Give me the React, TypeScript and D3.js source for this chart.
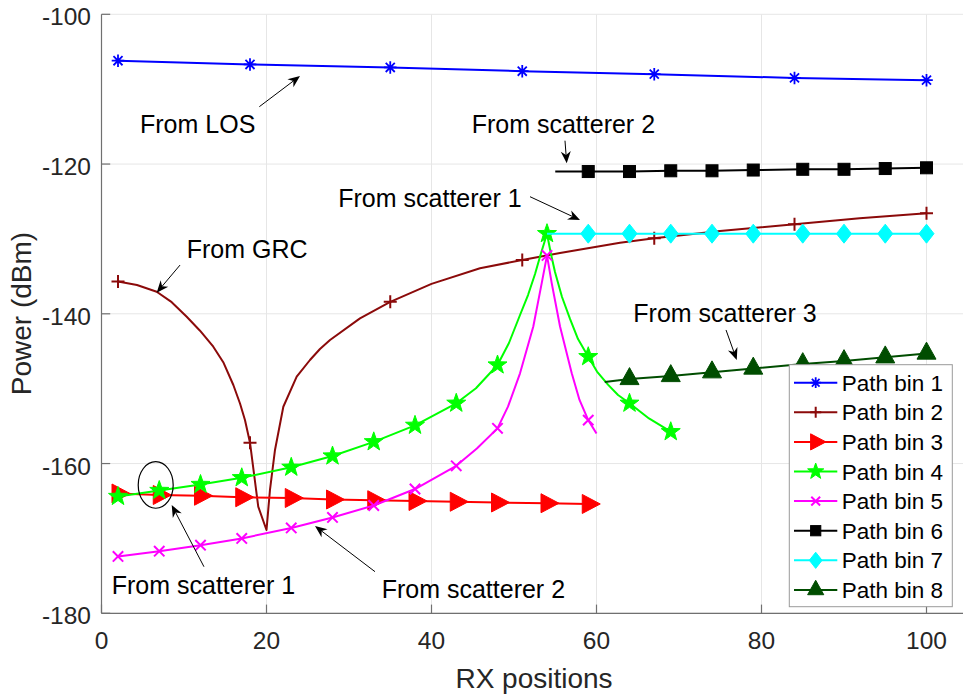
import React from "react";
import * as d3 from "d3";

const W = 963;
const H = 696;
const FONT = "'Liberation Sans', Arial, Helvetica, sans-serif";

// ---------- data ----------
const xTicks = [0, 20, 40, 60, 80, 100];
const yTicks = [-180, -160, -140, -120, -100];
const seriesNames = ["Path bin 1", "Path bin 2", "Path bin 3", "Path bin 4", "Path bin 5", "Path bin 6", "Path bin 7", "Path bin 8"];

const bin1X = [2, 18, 35, 51, 67, 84, 100];
const bin1Y = [-106.2, -106.7, -107.1, -107.6, -108.0, -108.5, -108.8];
const bin1Markers = [0, 1, 2, 3, 4, 5, 6];

const bin2X = [2, 4.3, 6.69, 8.51, 10.33, 11.94, 13.55, 14.76, 15.98, 16.79, 17.39, 18, 18.48, 19, 20, 20.42, 21.03, 22.04, 23.66, 25.27, 26.48, 27.7, 31.33, 35, 40, 45.88, 51, 55.58, 62.85, 67, 74.97, 84, 91.9, 100];
const bin2Y = [-135.7, -136.15, -137.05, -138.45, -140.39, -142.26, -144.39, -146.46, -149.51, -151.98, -154.18, -157.22, -161.3, -165.76, -168.87, -163.53, -158.19, -152.41, -148.4, -146.17, -144.7, -143.5, -140.61, -138.4, -136.0, -133.92, -132.81, -131.88, -130.5, -129.92, -128.94, -128.05, -127.25, -126.58];
const bin2Markers = [0, 11, 23, 26, 29, 31, 33];

const bin3X = [2, 7, 12, 17, 23, 28, 33, 38, 43, 48, 54, 59];
const bin3Y = [-164.0, -164.2, -164.3, -164.5, -164.6, -164.8, -164.9, -165.0, -165.1, -165.2, -165.3, -165.4];
const bin3Markers = [0, 1, 2, 3, 4, 5, 6, 7, 8, 9, 10, 11];

const bin4X = [2, 7, 12, 17, 23, 28, 33, 38, 43, 45.39, 48, 49.39, 50.73, 51.7, 52.55, 53.21, 54, 54.48, 54.97, 55.82, 56.79, 57.76, 59, 60.06, 61.39, 62.61, 64, 66.36, 69];
const bin4Y = [-164.4, -163.6, -162.8, -161.9, -160.5, -159.0, -157.1, -154.9, -151.95, -149.95, -146.84, -143.9, -140.16, -137.49, -134.68, -132.15, -129.3, -132.01, -134.42, -137.76, -140.69, -143.37, -145.73, -147.71, -149.46, -150.85, -151.95, -153.98, -155.75];
const bin4Markers = [0, 1, 2, 3, 4, 5, 6, 7, 8, 10, 16, 22, 26, 28];

const bin5X = [2, 7, 12, 17, 23, 28, 33, 38, 43, 45.5, 48, 49.27, 50.73, 52.34, 53.36, 54, 54.57, 55.58, 57.0, 57.94, 59, 60];
const bin5Y = [-172.4, -171.7, -170.9, -170.0, -168.6, -167.2, -165.6, -163.4, -160.3, -158.0, -155.3, -152.4, -147.95, -141.7, -135.9, -132.2, -135.9, -141.7, -147.95, -151.5, -154.2, -156.0];
const bin5Markers = [0, 1, 2, 3, 4, 5, 6, 7, 8, 10, 15, 20];

const bin6X = [55, 59, 64, 69, 74, 79, 85, 90, 95, 100];
const bin6Y = [-121.0, -121.0, -121.0, -120.9, -120.9, -120.8, -120.7, -120.7, -120.6, -120.5];
const bin6Markers = [1, 2, 3, 4, 5, 6, 7, 8, 9];

const bin7X = [54, 59, 64, 69, 74, 79, 85, 90, 95, 100];
const bin7Y = [-129.3, -129.3, -129.3, -129.3, -129.3, -129.3, -129.3, -129.3, -129.3, -129.3];
const bin7Markers = [1, 2, 3, 4, 5, 6, 7, 8, 9];

const bin8X = [61, 64, 69, 74, 79, 85, 90, 95, 100];
const bin8Y = [-149.1, -148.7, -148.3, -147.8, -147.3, -146.7, -146.3, -145.8, -145.3];
const bin8Markers = [1, 2, 3, 4, 5, 6, 7, 8];

// annotations (data coordinates)
const annTexts = ["From LOS", "From GRC", "From scatterer 2", "From scatterer 1", "From scatterer 3", "From scatterer 1", "From scatterer 2"];
const annTextX = [4.67, 10.33, 44.87, 28.7, 64.46, 1.24, 33.96];
const annTextY = [-115.85, -132.55, -115.89, -125.7, -141.05, -177.42, -178.0];
const annTailX = [19.13, 9.52, 56.18, 51.94, 75.7, 12.42, 33.15];
const annTailY = [-112.34, -133.49, -116.88, -124.36, -142.16, -173.78, -174.44];
const annHeadX = [24.06, 6.69, 56.39, 58.0, 77.0, 8.51, 25.88];
const annHeadY = [-108.24, -137.18, -119.9, -127.47, -146.17, -165.54, -168.34];
const ellipseCenter = [6.57, -162.86];
const ellipseRadius = [2.12, 3.11];

// ---------- styles ----------
type Shape = "asterisk" | "plus" | "triRight" | "star" | "x" | "square" | "diamond" | "triUp";
const seriesStyle: { color: string; shape: Shape }[] = [
  { color: "#0000ff", shape: "asterisk" },
  { color: "#8b0a0a", shape: "plus" },
  { color: "#ff0000", shape: "triRight" },
  { color: "#00ff00", shape: "star" },
  { color: "#ff00ff", shape: "x" },
  { color: "#000000", shape: "square" },
  { color: "#00ffff", shape: "diamond" },
  { color: "#004d00", shape: "triUp" },
];

const seriesData = [
  { xs: bin1X, ys: bin1Y, m: bin1Markers },
  { xs: bin2X, ys: bin2Y, m: bin2Markers },
  { xs: bin3X, ys: bin3Y, m: bin3Markers },
  { xs: bin4X, ys: bin4Y, m: bin4Markers },
  { xs: bin5X, ys: bin5Y, m: bin5Markers },
  { xs: bin6X, ys: bin6Y, m: bin6Markers },
  { xs: bin7X, ys: bin7Y, m: bin7Markers },
  { xs: bin8X, ys: bin8Y, m: bin8Markers },
];

const xScale = d3.scaleLinear().domain([0, 105]).range([101.5, 967.75]);
const yScale = d3.scaleLinear().domain([-180, -100]).range([613.3, 14.3]);

function Marker({ shape, cx, cy, color, s = 1 }: { shape: Shape; cx: number; cy: number; color: string; s?: number }) {
  switch (shape) {
    case "asterisk": {
      const r = 6.3 * s;
      const d = r * 0.72;
      return (
        <path
          d={`M${cx - r},${cy}H${cx + r}M${cx},${cy - r}V${cy + r}M${cx - d},${cy - d}L${cx + d},${cy + d}M${cx - d},${cy + d}L${cx + d},${cy - d}`}
          stroke={color}
          strokeWidth={1.8}
          fill="none"
        />
      );
    }
    case "plus": {
      const r = 6.5 * s;
      return <path d={`M${cx - r},${cy}H${cx + r}M${cx},${cy - r}V${cy + r}`} stroke={color} strokeWidth={2} fill="none" />;
    }
    case "x": {
      const r = 5.2 * s;
      return <path d={`M${cx - r},${cy - r}L${cx + r},${cy + r}M${cx - r},${cy + r}L${cx + r},${cy - r}`} stroke={color} strokeWidth={2} fill="none" />;
    }
    case "triRight": {
      const w = 18 * s;
      const h = 19 * s;
      return <path d={`M${cx - w / 3},${cy - h / 2}L${cx + (2 * w) / 3},${cy}L${cx - w / 3},${cy + h / 2}Z`} fill={color} stroke={color} strokeWidth={1} />;
    }
    case "triUp": {
      const w = 19 * s;
      const h = 17 * s;
      return <path d={`M${cx},${cy - (2 * h) / 3}L${cx + w / 2},${cy + h / 3}L${cx - w / 2},${cy + h / 3}Z`} fill={color} stroke={color} strokeWidth={1} />;
    }
    case "square": {
      const a = 6 * s;
      return <rect x={cx - a} y={cy - a} width={2 * a} height={2 * a} fill={color} stroke={color} strokeWidth={1} />;
    }
    case "diamond": {
      const hw = 7.5 * s;
      const hh = 9.5 * s;
      return <path d={`M${cx},${cy - hh}L${cx + hw},${cy}L${cx},${cy + hh}L${cx - hw},${cy}Z`} fill={color} stroke={color} strokeWidth={1} />;
    }
    case "star": {
      const R = 10 * s;
      const r = R * 0.4;
      const pts: string[] = [];
      for (let i = 0; i < 10; i++) {
        const rad = i % 2 === 0 ? R : r;
        const a = -Math.PI / 2 + (i * Math.PI) / 5;
        pts.push(`${cx + rad * Math.cos(a)},${cy + rad * Math.sin(a)}`);
      }
      return <path d={`M${pts.join("L")}Z`} fill={color} stroke={color} strokeWidth={1} />;
    }
  }
  return null;
}

function Arrow({ x1, y1, x2, y2 }: { x1: number; y1: number; x2: number; y2: number }) {
  const ang = Math.atan2(y2 - y1, x2 - x1);
  const L = 12;
  const w = 5;
  const cos = Math.cos(ang);
  const sin = Math.sin(ang);
  const pt = (a: number, b: number) => `${x2 + a * cos - b * sin},${y2 + a * sin + b * cos}`;
  const notchX = x2 - 0.7 * L * cos;
  const notchY = y2 - 0.7 * L * sin;
  return (
    <g>
      <line x1={x1} y1={y1} x2={notchX} y2={notchY} stroke="#000" strokeWidth={1} />
      <path d={`M${pt(0, 0)}L${pt(-L, w)}L${pt(-0.7 * L, 0)}L${pt(-L, -w)}Z`} fill="#000" />
    </g>
  );
}

export default function App() {
  const x0 = xScale(0);
  const xEnd = W;
  const yTop = yScale(-100);
  const yBot = yScale(-180);
  const tickLen = 8.7;
  const line = d3
    .line<[number, number]>()
    .x((d) => xScale(d[0]))
    .y((d) => yScale(d[1]));

  const legX = 789.3;
  const legY = 364.7;
  const legW = 163;
  const legH = 242;
  const rowH = 29.6;
  const row0 = 382.7;

  return (
    <svg width={W} height={H} style={{ position: "absolute", left: 0, top: 0, background: "#fff" }} fontFamily={FONT}>
      <rect x={0} y={0} width={W} height={H} fill="#fff" />
      {/* grid */}
      {xTicks.map((t) => (
        <line key={"gx" + t} x1={xScale(t)} x2={xScale(t)} y1={yTop} y2={yBot} stroke="#e6e6e6" strokeWidth={1} />
      ))}
      {yTicks.map((t) => (
        <line key={"gy" + t} x1={x0} x2={xEnd} y1={yScale(t)} y2={yScale(t)} stroke="#e6e6e6" strokeWidth={1} />
      ))}
      {/* axes */}
      <line x1={x0} x2={x0} y1={yTop} y2={yBot} stroke="#707070" strokeWidth={1.2} />
      <line x1={x0} x2={xEnd} y1={yBot} y2={yBot} stroke="#707070" strokeWidth={1.2} />
      {yTicks.map((t) => (
        <g key={"ty" + t}>
          <line x1={x0} x2={x0 + tickLen} y1={yScale(t)} y2={yScale(t)} stroke="#707070" strokeWidth={1.2} />
          <text x={x0 - 10.5} y={yScale(t) + 11} textAnchor="end" fontSize={24.5} fill="#262626">
            {t}
          </text>
        </g>
      ))}
      {xTicks.map((t) => (
        <g key={"tx" + t}>
          <line x1={xScale(t)} x2={xScale(t)} y1={yBot} y2={yBot - tickLen} stroke="#707070" strokeWidth={1.2} />
          <text x={xScale(t)} y={648.5} textAnchor="middle" fontSize={24.5} fill="#262626">
            {t}
          </text>
        </g>
      ))}
      <text x={534} y={688} textAnchor="middle" fontSize={28} fill="#262626">
        RX positions
      </text>
      <text transform={`translate(31,313.5) rotate(-90)`} textAnchor="middle" fontSize={28} fill="#262626">
        Power (dBm)
      </text>

      {/* series */}
      {seriesData.map((s, i) => {
        const pts = s.xs.map((v, k) => [v, s.ys[k]] as [number, number]);
        const st = seriesStyle[i];
        return (
          <g key={"s" + i}>
            <path d={line(pts) || ""} fill="none" stroke={st.color} strokeWidth={2} strokeLinejoin="round" />
            {s.m.map((k) => (
              <Marker key={k} shape={st.shape} cx={xScale(s.xs[k])} cy={yScale(s.ys[k])} color={st.color} />
            ))}
          </g>
        );
      })}

      {/* annotations */}
      <ellipse
        cx={xScale(ellipseCenter[0])}
        cy={yScale(ellipseCenter[1])}
        rx={xScale(ellipseRadius[0]) - xScale(0)}
        ry={yScale(-180) - yScale(-180 + ellipseRadius[1])}
        fill="none"
        stroke="#000"
        strokeWidth={1.2}
      />
      {annTexts.map((t, i) => (
        <g key={"a" + i}>
          <Arrow x1={xScale(annTailX[i])} y1={yScale(annTailY[i])} x2={xScale(annHeadX[i])} y2={yScale(annHeadY[i])} />
          <text x={xScale(annTextX[i])} y={yScale(annTextY[i])} fontSize={25} fill="#000">
            {t}
          </text>
        </g>
      ))}

      {/* legend */}
      <rect x={legX} y={legY} width={legW} height={legH} fill="#fff" stroke="#9a9a9a" strokeWidth={1} />
      {seriesNames.map((n, i) => {
        const cy = row0 + i * rowH;
        const st = seriesStyle[i];
        return (
          <g key={"l" + i}>
            <line x1={794} x2={837.3} y1={cy} y2={cy} stroke={st.color} strokeWidth={2} />
            <Marker shape={st.shape} cx={815.7} cy={cy} color={st.color} s={0.85} />
            <text x={841.7} y={cy + 8} fontSize={22.5} fill="#000">
              {n}
            </text>
          </g>
        );
      })}
    </svg>
  );
}
